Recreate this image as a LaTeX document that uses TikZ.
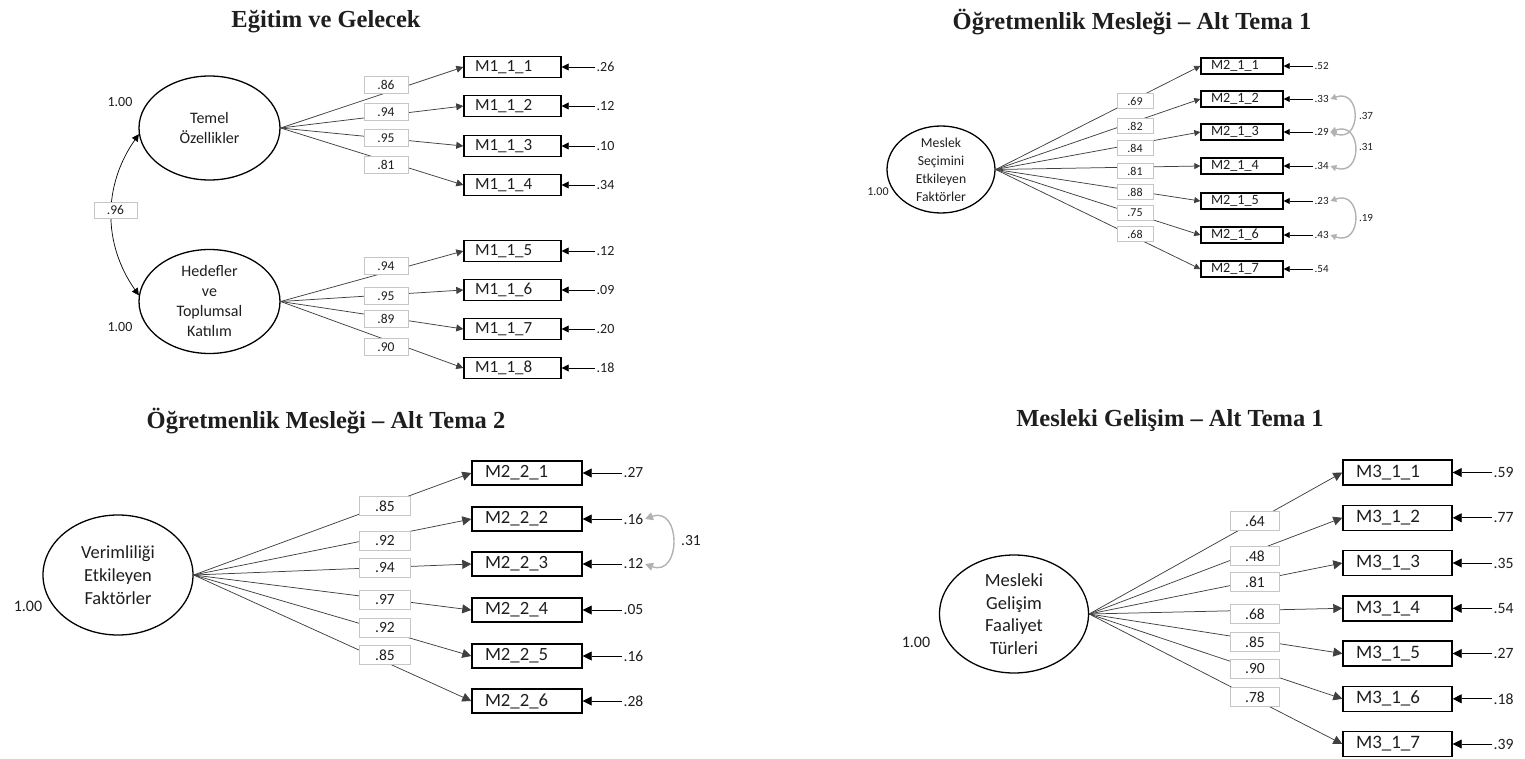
\documentclass[tikz,border=0pt]{standalone}
\usepackage{fontspec}
\setmainfont{Carlito}
\newfontfamily\titlefont{Liberation Serif}
\usepackage{tikz}
\usetikzlibrary{positioning, shapes.geometric, arrows.meta}
\definecolor{ink}{HTML}{1E1E1E}
\definecolor{wire}{HTML}{404040}
\definecolor{frame}{HTML}{C6C6C6}
\definecolor{corr}{HTML}{B2B2B2}

\begin{document}
\begin{tikzpicture}[x=1pt, y=1pt,
  heading/.style={inner sep=0pt, text=ink, font=\titlefont\bfseries\fontsize{24.5}{28}\selectfont},
  latent/.style={ellipse, draw=black, line width=1.3pt, inner sep=0pt},
  lattext/.style={align=center, text=ink, inner sep=0pt},
  item/.style={rectangle, draw=black, line width=1.4pt, inner ysep=0pt, text=ink},
  ind1/.style={item, inner xsep=11pt, minimum height=21pt, font=\fontsize{17}{20}\selectfont},
  ind2/.style={item, inner xsep=10pt, minimum height=16pt, font=\fontsize{14.2}{16}\selectfont},
  ind3/.style={item, inner xsep=13pt, minimum height=24pt, font=\fontsize{18.7}{22}\selectfont},
  ind4/.style={item, inner xsep=13pt, minimum height=25pt, font=\fontsize{19}{22}\selectfont},
  coef/.style={rectangle, draw=frame, line width=0.6pt, fill=white, inner sep=0pt, text=ink},
  errtxt/.style={anchor=west, inner sep=1.5pt, text=ink},
  varlbl/.style={inner sep=0pt, text=ink},
  load/.style={wire, line width=0.75pt, -{Triangle[length=#1, width=#1]}},
  err/.style={black, line width=0.8pt, -{Triangle[length=#1, width=#1]}},
  corrarc/.style={corr, line width=1.4pt, {Triangle[length=#1, width=#1]}-{Triangle[length=#1, width=#1]}}
]
  \useasboundingbox (0,0) rectangle (1525,-759);

  % Egitim ve Gelecek
  \node[heading] (h1) at (326,-22) {Eğitim ve Gelecek};
  \node[latent, minimum width=141pt, minimum height=104pt,
        label={[lattext, font=\fontsize{16}{20}\selectfont]center:Temel\\Özellikler}] (temel) at (209.5,-128) {};
  \node[latent, minimum width=141pt, minimum height=104pt,
        label={[lattext, font=\fontsize{16}{20}\selectfont]center:Hedefler\\ve\\Toplumsal\\Katılım}] (hedef) at (209.5,-301.5) {};
  \node[varlbl, font=\fontsize{14}{16}\selectfont] (v1a) at (120,-102) {1.00};
  \node[varlbl, font=\fontsize{14}{16}\selectfont] (v1b) at (120,-327) {1.00};
  \draw[corrarc=7pt, black, line width=0.7pt] (temel.185) to[out=235, in=125] (hedef.175);
  \node[coef, minimum width=43pt, minimum height=16pt, font=\fontsize{13.5}{16}\selectfont] (r1) at (115.5,-210) {.96};

  \foreach \id/\py/\ev in {1/67/.26, 2/106/.12, 3/146/.10, 4/185/.34}{
    \node[ind1] (m1\id) at (512.5,-\py) {\makebox[75pt][l]{M1\_1\_\id}};
    \draw[load=7pt] (temel.east) -- (m1\id.west);
    \node[errtxt, font=\fontsize{14}{16}\selectfont] (e1\id) at (595,-\py) {\ev};
    \draw[err=7pt] (e1\id.west) -- (m1\id.east);
  }
  \foreach \id/\py/\ev in {5/251/.12, 6/290/.09, 7/329/.20, 8/368/.18}{
    \node[ind1] (m1\id) at (512.5,-\py) {\makebox[75pt][l]{M1\_1\_\id}};
    \draw[load=7pt] (hedef.east) -- (m1\id.west);
    \node[errtxt, font=\fontsize{14}{16}\selectfont] (e1\id) at (595,-\py) {\ev};
    \draw[err=7pt] (e1\id.west) -- (m1\id.east);
  }
  \foreach \id/\ly/\lw in {1/85.3/.86, 2/111.7/.94, 3/138/.95, 4/164.5/.81, 5/265.7/.94, 6/295.7/.95, 7/319/.89, 8/346.7/.90}
    \node[coef, minimum width=44pt, minimum height=17pt, font=\fontsize{13.5}{16}\selectfont] (w1\id) at (386,-\ly) {\lw};

  % Ogretmenlik Meslegi - Alt Tema 1
  \node[heading] (h2) at (1132,-22) {Öğretmenlik Mesleği – Alt Tema 1};
  \node[latent, minimum width=108pt, minimum height=87pt,
        label={[lattext, font=\fontsize{13.7}{18}\selectfont]center:Meslek\\Seçimini\\Etkileyen\\Faktörler}] (secim) at (941,-169.5) {};
  \node[varlbl, font=\fontsize{12}{14}\selectfont] (v2) at (878,-192) {1.00};

  \foreach \id/\py/\ev in {1/66/.52, 2/99/.33, 3/132/.29, 4/166/.34, 5/201/.23, 6/235/.43, 7/269/.54}{
    \node[ind2] (m2\id) at (1242,-\py) {\makebox[62pt][l]{M2\_1\_\id}};
    \draw[load=6pt] (secim.east) -- (m2\id.west);
    \node[errtxt, font=\fontsize{11}{13}\selectfont] (e2\id) at (1313,-\py) {\ev};
    \draw[err=6pt] (e2\id.west) -- (m2\id.east);
  }
  \foreach \id/\ly/\lw in {1/101/.69, 2/126/.82, 3/148/.84, 4/171/.81, 5/192/.88, 6/213/.75, 7/234/.68}
    \node[coef, minimum width=36pt, minimum height=15pt, font=\fontsize{12}{14}\selectfont] (w2\id) at (1135,-\ly) {\lw};
  \foreach \ea/\eb/\cv/\cy in {2/3/.37/116, 3/4/.31/147, 5/6/.19/218}{
    \draw[corrarc=6pt] (e2\ea.east) to[out=20, in=-20, looseness=2.6] (e2\eb.east);
    \node[varlbl, font=\fontsize{11}{13}\selectfont] (c2\ea) at (1366,-\cy) {\cv};
  }

  % Ogretmenlik Meslegi - Alt Tema 2
  \node[heading] (h3) at (326,-421) {Öğretmenlik Mesleği – Alt Tema 2};
  \node[latent, minimum width=150pt, minimum height=120pt,
        label={[lattext, font=\fontsize{18.4}{23}\selectfont]center:Verimliliği\\Etkileyen\\Faktörler}] (verim) at (118,-575) {};
  \node[varlbl, font=\fontsize{16}{18}\selectfont] (v3) at (28,-606) {1.00};

  \foreach \id/\py/\ev in {1/473/.27, 2/519/.16, 3/564/.12, 4/610/.05, 5/656/.16, 6/701/.28}{
    \node[ind3] (m3\id) at (527,-\py) {\makebox[84pt][l]{M2\_2\_\id}};
    \draw[load=9pt] (verim.east) -- (m3\id.west);
    \node[errtxt, font=\fontsize{15.5}{18}\selectfont] (e3\id) at (622,-\py) {\ev};
    \draw[err=9pt] (e3\id.west) -- (m3\id.east);
  }
  \foreach \id/\ly/\lw in {1/506/.85, 2/541/.92, 3/568/.94, 4/600/.97, 5/628/.92, 6/655/.85}
    \node[coef, minimum width=51pt, minimum height=19pt, font=\fontsize{15.5}{18}\selectfont] (w3\id) at (385,-\ly) {\lw};
  \draw[corrarc=8pt] (e32.east) to[out=20, in=-20, looseness=2.2] (e33.east);
  \node[varlbl, font=\fontsize{15.5}{18}\selectfont] (c3) at (691,-541) {.31};

  % Mesleki Gelisim - Alt Tema 1
  \node[heading] (h4) at (1170,-421) {Mesleki Gelişim – Alt Tema 1};
  \node[latent, minimum width=149pt, minimum height=118pt,
        label={[lattext, font=\fontsize{18.5}{22.7}\selectfont]center:Mesleki\\Gelişim\\Faaliyet\\Türleri}] (gelisim) at (1014,-614) {};
  \node[varlbl, font=\fontsize{16}{18}\selectfont] (v4) at (916,-642) {1.00};

  \foreach \id/\py/\ev in {1/472.5/.59, 2/517.8/.77, 3/563/.35, 4/608.3/.54, 5/653.5/.27, 6/698.8/.18, 7/744/.39}{
    \node[ind4] (m4\id) at (1397.5,-\py) {\makebox[83pt][l]{M3\_1\_\id}};
    \draw[load=9pt] (gelisim.east) -- (m4\id.west);
    \node[errtxt, font=\fontsize{15.7}{18}\selectfont] (e4\id) at (1492,-\py) {\ev};
    \draw[err=9pt] (e4\id.west) -- (m4\id.east);
  }
  \foreach \id/\ly/\lw in {1/521/.64, 2/556/.48, 3/582/.81, 4/614/.68, 5/642/.85, 6/669/.90, 7/697/.78}
    \node[coef, minimum width=49pt, minimum height=19pt, font=\fontsize{15.5}{18}\selectfont] (w4\id) at (1255,-\ly) {\lw};
\end{tikzpicture}
\end{document}
